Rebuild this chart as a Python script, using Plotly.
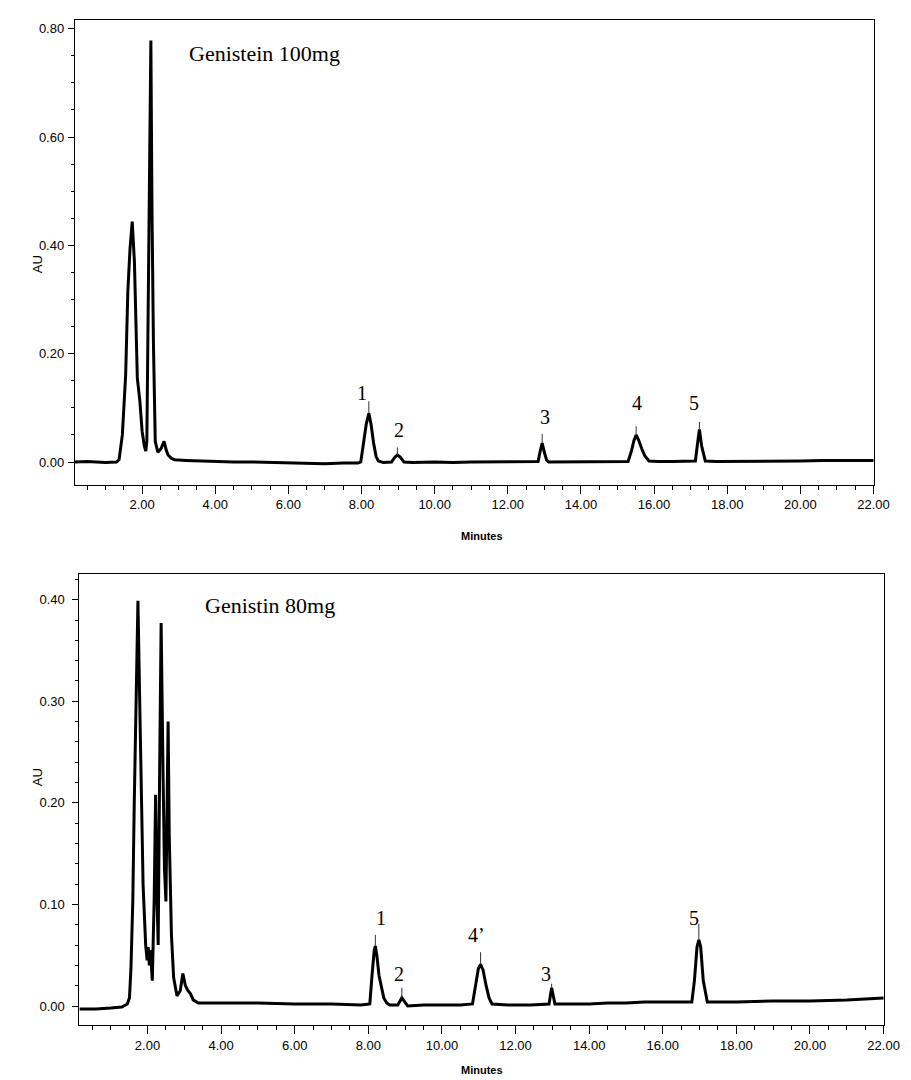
import plotly.graph_objects as go

# ---------------- data: top chromatogram (Genistein 100mg) ----------------
top_time = [0.16, 0.5, 1.0, 1.3, 1.37, 1.46, 1.55, 1.61, 1.67, 1.73, 1.79, 1.84, 1.87,
            1.94, 2.00, 2.06, 2.10, 2.13, 2.16, 2.20, 2.24, 2.27, 2.31, 2.36, 2.43,
            2.52, 2.60, 2.66, 2.71, 2.80, 2.89, 3.2, 3.6, 4.0, 4.5, 5.0, 5.5, 6.0,
            6.5, 7.0, 7.5, 7.9, 7.98, 8.06, 8.13, 8.20, 8.26, 8.33, 8.40, 8.46, 8.6,
            8.82, 8.90, 8.98, 9.06, 9.16, 9.4, 10.0, 10.5, 11.0, 11.5, 12.0, 12.5,
            12.83, 12.88, 12.94, 13.00, 13.06, 13.12, 13.4, 13.8, 14.2, 14.6, 15.0,
            15.29, 15.38, 15.45, 15.51, 15.58, 15.66, 15.75, 15.86, 16.1, 16.5, 16.9,
            17.13, 17.19, 17.24, 17.30, 17.40, 17.7, 18.2, 18.8, 19.4, 20.0, 20.6,
            21.2, 21.5, 22.0]
top_au = [0.000, 0.001, -0.001, 0.000, 0.004, 0.050, 0.160, 0.315, 0.394, 0.444, 0.370,
          0.223, 0.155, 0.112, 0.057, 0.030, 0.020, 0.038, 0.220, 0.470, 0.778, 0.470,
          0.220, 0.038, 0.018, 0.025, 0.038, 0.022, 0.013, 0.007, 0.004, 0.003, 0.002,
          0.002, 0.000, 0.000, -0.001, -0.002, -0.003, -0.003, -0.002, -0.002, 0.000,
          0.035, 0.070, 0.090, 0.070, 0.035, 0.010, 0.002, -0.001, 0.000, 0.008, 0.013,
          0.009, 0.000, -0.001, 0.000, -0.001, 0.000, 0.000, 0.000, 0.000, 0.001, 0.018,
          0.035, 0.018, 0.004, 0.000, 0.000, 0.001, 0.000, 0.001, 0.001, 0.001, 0.020,
          0.040, 0.050, 0.040, 0.025, 0.011, 0.002, 0.001, 0.001, 0.001, 0.002, 0.035,
          0.060, 0.030, 0.002, 0.001, 0.001, 0.002, 0.002, 0.002, 0.003, 0.003, 0.003,
          0.003]

top_peak_labels = ["1", "2", "3", "4", "5"]
top_peak_time = [8.20, 8.98, 12.94, 15.51, 17.24]
top_peak_apex = [0.090, 0.013, 0.035, 0.050, 0.060]
top_peak_mark = [0.112, 0.027, 0.052, 0.066, 0.074]
top_label_time = [8.02, 9.02, 13.02, 15.53, 17.08]
top_label_au = [0.127, 0.060, 0.084, 0.109, 0.109]

# ---------------- data: bottom chromatogram (Genistin 80mg) ----------------
bot_time = [0.15, 0.6, 1.0, 1.3, 1.45, 1.51, 1.55, 1.60, 1.64, 1.69, 1.71, 1.74, 1.78,
            1.82, 1.88, 1.95, 1.99, 2.02, 2.05, 2.08, 2.11, 2.13, 2.18, 2.22, 2.26,
            2.29, 2.33, 2.37, 2.42, 2.46, 2.50, 2.53, 2.56, 2.59, 2.65, 2.71, 2.80,
            2.89, 2.96, 3.03, 3.10, 3.17, 3.24, 3.38, 4.0, 5.0, 6.0, 7.0, 7.8, 8.04,
            8.10, 8.16, 8.19, 8.23, 8.29, 8.35, 8.42, 8.50, 8.58, 8.80, 8.86, 8.91,
            8.97, 9.07, 9.5, 10.0, 10.5, 10.83, 10.92, 10.99, 11.05, 11.12, 11.20,
            11.28, 11.36, 11.8, 12.4, 12.91, 12.98, 13.07, 13.5, 14.0, 14.5, 15.0,
            15.5, 16.0, 16.5, 16.79, 16.86, 16.93, 16.98, 17.03, 17.10, 17.21, 17.5,
            18.0, 19.0, 20.0, 21.0, 22.0]
bot_au = [-0.003, -0.003, -0.002, -0.001, 0.002, 0.008, 0.037, 0.103, 0.200, 0.300,
          0.360, 0.399, 0.316, 0.218, 0.119, 0.060, 0.045, 0.058, 0.040, 0.055, 0.030,
          0.025, 0.103, 0.208, 0.103, 0.060, 0.234, 0.377, 0.234, 0.136, 0.103, 0.234,
          0.280, 0.169, 0.070, 0.028, 0.010, 0.015, 0.032, 0.020, 0.015, 0.012, 0.006,
          0.003, 0.003, 0.003, 0.002, 0.002, 0.001, 0.002, 0.030, 0.055, 0.059, 0.050,
          0.030, 0.018, 0.008, 0.003, 0.001, 0.001, 0.005, 0.008, 0.005, 0.000, 0.001,
          0.001, 0.001, 0.002, 0.020, 0.037, 0.041, 0.035, 0.020, 0.008, 0.002, 0.001,
          0.001, 0.002, 0.018, 0.002, 0.002, 0.002, 0.003, 0.003, 0.004, 0.004, 0.004,
          0.004, 0.025, 0.058, 0.065, 0.058, 0.025, 0.004, 0.004, 0.004, 0.005, 0.005,
          0.006, 0.008]

bot_peak_labels = ["1", "2", "4\u2019", "3", "5"]
bot_peak_time = [8.19, 8.91, 11.05, 12.98, 16.98]
bot_peak_apex = [0.059, 0.008, 0.041, 0.018, 0.065]
bot_peak_mark = [0.070, 0.018, 0.053, 0.022, 0.081]
bot_label_time = [8.34, 8.84, 10.93, 12.82, 16.84]
bot_label_au = [0.087, 0.032, 0.070, 0.032, 0.087]

x_tick_vals = [2, 4, 6, 8, 10, 12, 14, 16, 18, 20, 22]
x_tick_text = ["2.00", "4.00", "6.00", "8.00", "10.00", "12.00", "14.00", "16.00",
               "18.00", "20.00", "22.00"]
top_y_vals = [0.0, 0.2, 0.4, 0.6, 0.8]
top_y_text = ["0.00", "0.20", "0.40", "0.60", "0.80"]
bot_y_vals = [0.0, 0.1, 0.2, 0.3, 0.4]
bot_y_text = ["0.00", "0.10", "0.20", "0.30", "0.40"]

# ---------------- figure ----------------
TICKFONT = dict(family="Liberation Sans Narrow, Liberation Sans, Arial, sans-serif",
                size=13, color="black")
SERIF = "Liberation Serif, Times New Roman, serif"

fig = go.Figure()


def mark_lines(times, lo, hi):
    xs, ys = [], []
    for t, a, b in zip(times, lo, hi):
        xs += [t, t, None]
        ys += [a, b, None]
    return xs, ys


fig.add_trace(go.Scatter(x=top_time, y=top_au, mode="lines",
                         line=dict(color="black", width=3),
                         xaxis="x", yaxis="y", showlegend=False))
mx, my = mark_lines(top_peak_time, top_peak_apex, top_peak_mark)
fig.add_trace(go.Scatter(x=mx, y=my, mode="lines", line=dict(color="#333", width=1),
                         xaxis="x", yaxis="y", showlegend=False))

fig.add_trace(go.Scatter(x=bot_time, y=bot_au, mode="lines",
                         line=dict(color="black", width=3),
                         xaxis="x2", yaxis="y2", showlegend=False))
mx, my = mark_lines(bot_peak_time, bot_peak_apex, bot_peak_mark)
fig.add_trace(go.Scatter(x=mx, y=my, mode="lines", line=dict(color="#333", width=1),
                         xaxis="x2", yaxis="y2", showlegend=False))

annotations = []
for lab, t, a in zip(top_peak_labels, top_label_time, top_label_au):
    annotations.append(dict(x=t, y=a, xref="x", yref="y", text=lab, showarrow=False,
                            font=dict(family=SERIF, size=20, color="black")))
for lab, t, a in zip(bot_peak_labels, bot_label_time, bot_label_au):
    annotations.append(dict(x=t, y=a, xref="x2", yref="y2", text=lab, showarrow=False,
                            font=dict(family=SERIF, size=20, color="black")))

annotations += [
    dict(x=3.22, y=0.755, xref="x", yref="y", text="Genistein 100mg", showarrow=False,
         xanchor="left", font=dict(family=SERIF, size=22, color="black")),
    dict(x=3.52, y=0.394, xref="x2", yref="y2", text="Genistin 80mg", showarrow=False,
         xanchor="left", font=dict(family=SERIF, size=22, color="black")),
    dict(x=20 / 911, y=1 - 245 / 1080, xref="paper", yref="paper", text="AU",
         textangle=-90, showarrow=False,
         font=dict(family="Liberation Sans, Arial, sans-serif", size=13, color="black")),
    dict(x=20 / 911, y=1 - 780 / 1080, xref="paper", yref="paper", text="AU",
         textangle=-90, showarrow=False,
         font=dict(family="Liberation Sans, Arial, sans-serif", size=13, color="black")),
    dict(x=482 / 911, y=1 - 528 / 1080, xref="paper", yref="paper", text="<b>Minutes</b>",
         showarrow=False,
         font=dict(family="Liberation Sans Narrow, Liberation Sans, Arial, sans-serif",
                   size=11, color="black")),
    dict(x=482 / 911, y=1 - 1070 / 1080, xref="paper", yref="paper", text="<b>Minutes</b>",
         showarrow=False,
         font=dict(family="Liberation Sans Narrow, Liberation Sans, Arial, sans-serif",
                   size=11, color="black")),
]


def xaxis_cfg(domain, rng, anchor):
    return dict(domain=domain, range=rng, anchor=anchor, tickvals=x_tick_vals,
                ticktext=x_tick_text, ticks="outside", ticklen=8, tickwidth=1,
                tickcolor="black", showline=True, mirror=True, linecolor="black",
                linewidth=1, showgrid=False, zeroline=False, tickfont=TICKFONT,
                ticklabelstandoff=0,
                minor=dict(dtick=0.5, tick0=0, ticks="outside", ticklen=4,
                           tickcolor="black", showgrid=False))


def yaxis_cfg(domain, rng, anchor, vals, text, mdt, standoff):
    return dict(domain=domain, range=rng, anchor=anchor, tickvals=vals, ticktext=text,
                ticks="outside", ticklen=6, tickwidth=1, tickcolor="black",
                showline=True, mirror=True, linecolor="black", linewidth=1,
                showgrid=False, zeroline=False, tickfont=TICKFONT,
                ticklabelstandoff=standoff,
                minor=dict(dtick=mdt, tick0=0, ticks="outside", ticklen=3,
                           tickcolor="black", showgrid=False))


fig.update_layout(
    width=911, height=1080,
    margin=dict(l=0, r=0, t=0, b=0),
    paper_bgcolor="white", plot_bgcolor="white",
    xaxis=xaxis_cfg([68 / 911, 881.7 / 911], [0.16, 22.02], "y"),
    yaxis=yaxis_cfg([1 - 476.5 / 1080, 1 - 11.7 / 1080], [-0.0415, 0.8166], "x",
                    top_y_vals, top_y_text, 0.05, 1),
    xaxis2=xaxis_cfg([72.7 / 911, 892 / 911], [0.15, 22.02], "y2"),
    yaxis2=yaxis_cfg([1 - 1017 / 1080, 1 - 566 / 1080], [-0.0187, 0.4253], "x2",
                     bot_y_vals, bot_y_text, 0.02, 5),
    annotations=annotations,
    showlegend=False,
)

fig.write_html("out.html")
